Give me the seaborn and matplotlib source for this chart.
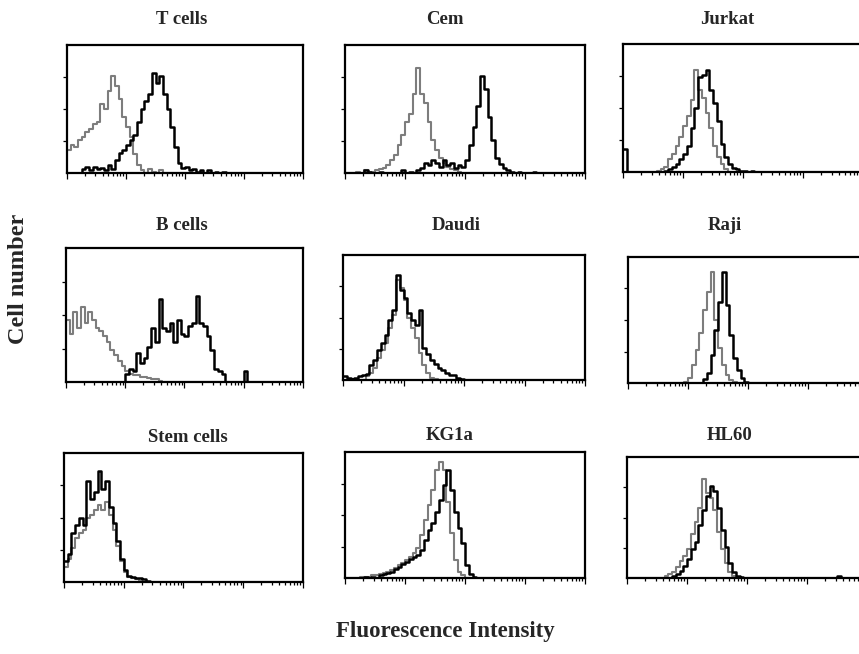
import numpy as np
import pandas as pd
import matplotlib
matplotlib.use('Agg')
import matplotlib.pyplot as plt
import seaborn as sns

sns.set_style('white')
plt.rcParams['font.family'] = ['Liberation Serif', 'DejaVu Serif']

# 64 channel bins on a 4-decade log axis, counts in % of panel height
n_bins = 64

titles = ['T cells', 'Cem', 'Jurkat', 'B cells', 'Daudi', 'Raji',
          'Stem cells', 'KG1a', 'HL60']

tcells_ctrl = [18, 22, 20, 26, 28, 32, 34, 38, 40, 54, 50, 64, 76, 68, 58, 44,
               36, 28, 15, 6, 2, 0, 3, 1, 0, 2, 0, 0, 0, 0, 0, 0,
               0, 0, 0, 0, 0, 0, 0, 0, 0, 0, 0, 0, 0, 0, 0, 0,
               0, 0, 0, 0, 0, 0, 0, 0, 0, 0, 0, 0, 0, 0, 0, 0]
tcells_stain = [0, 0, 0, 0, 3, 5, 2, 5, 3, 4, 2, 6, 3, 10, 16, 18,
                22, 26, 30, 40, 50, 56, 62, 78, 70, 76, 62, 50, 36, 20, 8, 4,
                5, 2, 3, 1, 2, 0, 2, 0, 1, 0, 1, 0, 0, 0, 0, 0,
                0, 0, 0, 0, 0, 0, 0, 0, 0, 0, 0, 0, 0, 0, 0, 0]

cem_ctrl = [0, 0, 0, 1, 0, 2, 0, 1, 2, 3, 4, 6, 10, 14, 22, 30,
            40, 46, 62, 82, 62, 55, 40, 26, 18, 12, 8, 5, 3, 2, 1, 0,
            0, 0, 0, 0, 0, 0, 0, 0, 0, 0, 0, 0, 0, 0, 0, 0,
            0, 0, 0, 0, 0, 0, 0, 0, 0, 0, 0, 0, 0, 0, 0, 0]
cem_stain = [0, 0, 0, 0, 0, 2, 1, 0, 0, 1, 0, 0, 0, 0, 0, 2,
             0, 1, 0, 2, 4, 8, 6, 10, 8, 5, 10, 6, 8, 4, 6, 5,
             10, 22, 36, 52, 76, 66, 44, 26, 12, 7, 4, 2, 1, 0, 1, 0,
             0, 0, 1, 0, 0, 0, 0, 0, 0, 0, 0, 0, 0, 0, 0, 0]

jurkat_ctrl = [0, 0, 0, 0, 0, 0, 0, 0, 0, 1, 2, 4, 10, 14, 20, 27,
               36, 44, 56, 80, 64, 58, 46, 34, 20, 12, 6, 2, 0, 0, 0, 0,
               0, 0, 0, 0, 0, 0, 0, 0, 0, 0, 0, 0, 0, 0, 0, 0,
               0, 0, 0, 0, 0, 0, 0, 0, 0, 0, 0, 0, 0, 0, 0, 0]
jurkat_stain = [18, 0, 0, 0, 0, 0, 0, 0, 0, 0, 0, 1, 2, 4, 6, 10,
                14, 20, 34, 50, 74, 76, 80, 64, 54, 40, 22, 12, 6, 3, 2, 1,
                1, 0, 1, 0, 0, 0, 0, 0, 0, 0, 0, 0, 0, 0, 0, 0,
                0, 0, 0, 0, 0, 0, 0, 0, 0, 0, 0, 0, 0, 0, 0, 0]

bcells_ctrl = [46, 36, 52, 40, 56, 44, 52, 46, 40, 38, 34, 30, 24, 20, 16, 12,
               8, 6, 5, 5, 4, 4, 3, 2, 2, 1, 0, 0, 0, 0, 0, 0,
               0, 0, 0, 0, 0, 0, 0, 0, 0, 0, 0, 0, 0, 0, 0, 0,
               0, 0, 0, 0, 0, 0, 0, 0, 0, 0, 0, 0, 0, 0, 0, 0]
bcells_stain = [0, 0, 0, 0, 0, 0, 0, 0, 0, 0, 0, 0, 0, 0, 0, 0,
                6, 10, 8, 22, 14, 18, 26, 40, 30, 62, 40, 38, 44, 30, 46, 36,
                34, 42, 44, 64, 44, 42, 34, 24, 10, 8, 6, 0, 0, 0, 0, 0,
                8, 0, 0, 0, 0, 0, 0, 0, 0, 0, 0, 0, 0, 0, 0, 0]

daudi_ctrl = [0, 0, 0, 0, 0, 0, 3, 6, 10, 18, 24, 30, 42, 52, 80, 74,
              64, 50, 42, 34, 22, 12, 6, 2, 1, 0, 0, 0, 0, 0, 0, 0,
              0, 0, 0, 0, 0, 0, 0, 0, 0, 0, 0, 0, 0, 0, 0, 0,
              0, 0, 0, 0, 0, 0, 0, 0, 0, 0, 0, 0, 0, 0, 0, 0]
daudi_stain = [3, 2, 1, 2, 3, 4, 5, 12, 16, 24, 30, 36, 48, 56, 84, 72,
               66, 54, 48, 44, 56, 26, 21, 16, 13, 10, 8, 6, 4, 4, 2, 1,
               0, 0, 0, 0, 0, 0, 0, 0, 0, 0, 0, 0, 0, 0, 0, 0,
               0, 0, 0, 0, 0, 0, 0, 0, 0, 0, 0, 0, 0, 0, 0, 0]

raji_ctrl = [0, 0, 0, 0, 0, 0, 0, 0, 0, 0, 0, 0, 0, 0, 0, 1,
             4, 14, 26, 40, 58, 72, 88, 50, 28, 14, 6, 2, 1, 0, 0, 0,
             0, 0, 0, 0, 0, 0, 0, 0, 0, 0, 0, 0, 0, 0, 0, 0,
             0, 0, 0, 0, 0, 0, 0, 0, 0, 0, 0, 0, 0, 0, 0, 0]
raji_stain = [0, 0, 0, 0, 0, 0, 0, 0, 0, 0, 0, 0, 0, 0, 0, 0,
              0, 0, 0, 0, 3, 8, 22, 42, 64, 88, 62, 38, 20, 10, 4, 1,
              0, 0, 0, 0, 0, 0, 0, 0, 0, 0, 0, 0, 0, 0, 0, 0,
              0, 0, 0, 0, 0, 0, 0, 0, 0, 0, 0, 0, 0, 0, 0, 0]

stem_ctrl = [12, 18, 26, 34, 38, 40, 50, 52, 56, 60, 56, 62, 52, 40, 28, 16,
             8, 4, 3, 2, 1, 0, 0, 0, 0, 0, 0, 0, 0, 0, 0, 0,
             0, 0, 0, 0, 0, 0, 0, 0, 0, 0, 0, 0, 0, 0, 0, 0,
             0, 0, 0, 0, 0, 0, 0, 0, 0, 0, 0, 0, 0, 0, 0, 0]
stem_stain = [16, 22, 38, 44, 50, 44, 78, 64, 70, 86, 72, 78, 58, 46, 32, 18,
              9, 5, 4, 3, 3, 2, 1, 0, 0, 0, 0, 0, 0, 0, 0, 0,
              0, 0, 0, 0, 0, 0, 0, 0, 0, 0, 0, 0, 0, 0, 0, 0,
              0, 0, 0, 0, 0, 0, 0, 0, 0, 0, 0, 0, 0, 0, 0, 0]

kg1a_ctrl = [0, 0, 0, 0, 1, 1, 1, 2, 2, 3, 4, 5, 6, 8, 10, 12,
             14, 17, 20, 24, 34, 46, 58, 70, 86, 92, 86, 60, 36, 14, 5, 2,
             0, 0, 0, 0, 0, 0, 0, 0, 0, 0, 0, 0, 0, 0, 0, 0,
             0, 0, 0, 0, 0, 0, 0, 0, 0, 0, 0, 0, 0, 0, 0, 0]
kg1a_stain = [0, 0, 0, 0, 0, 1, 0, 1, 0, 2, 3, 4, 5, 7, 9, 11,
              13, 15, 17, 18, 22, 30, 38, 44, 52, 62, 74, 86, 70, 52, 40, 28,
              10, 3, 1, 0, 0, 0, 0, 0, 0, 0, 0, 0, 0, 0, 0, 0,
              0, 0, 0, 0, 0, 0, 0, 0, 0, 0, 0, 0, 0, 0, 0, 0]

hl60_ctrl = [0, 0, 0, 0, 0, 0, 0, 0, 0, 0, 2, 3, 5, 9, 14, 18,
             24, 36, 46, 58, 82, 70, 66, 56, 38, 24, 12, 5, 2, 0, 0, 0,
             0, 0, 0, 0, 0, 0, 0, 0, 0, 0, 0, 0, 0, 0, 0, 0,
             0, 0, 0, 0, 0, 0, 0, 0, 0, 0, 0, 0, 0, 0, 0, 0]
hl60_stain = [0, 0, 0, 0, 0, 0, 0, 0, 0, 0, 0, 0, 2, 3, 6, 10,
              16, 24, 30, 44, 56, 68, 76, 72, 58, 40, 26, 12, 5, 2, 1, 0,
              0, 0, 0, 0, 0, 0, 0, 0, 0, 0, 0, 0, 0, 0, 0, 0,
              0, 0, 0, 0, 0, 0, 0, 0, 2, 0, 0, 0, 0, 0, 0, 0]

controls = [tcells_ctrl, cem_ctrl, jurkat_ctrl, bcells_ctrl, daudi_ctrl,
            raji_ctrl, stem_ctrl, kg1a_ctrl, hl60_ctrl]
stains = [tcells_stain, cem_stain, jurkat_stain, bcells_stain, daudi_stain,
          raji_stain, stem_stain, kg1a_stain, hl60_stain]
for c, s in zip(controls, stains):
    assert len(c) == n_bins and len(s) == n_bins

centers = (np.arange(n_bins) + 0.5) / n_bins

# panel boxes in pixels (left, top, right, bottom) and title centres
W, H = 859, 654
boxes = [(67, 45, 303, 173), (345, 45, 585, 173), (623, 44, 863, 172),
         (66, 248, 303, 382), (343, 255, 585, 380), (628, 257, 868, 383),
         (64, 453, 303, 582), (345, 452, 585, 578), (627, 457, 867, 578)]
title_pos = [(182, 20), (445, 20), (727, 20),
             (182, 225), (456, 225), (725, 225),
             (188, 437), (450, 436), (730, 436)]

# log ticks, 4 decades
xt_major = [d / 4 for d in range(5)]
xt_minor = [(d + np.log10(k)) / 4 for d in range(4) for k in range(2, 10)]

fig = plt.figure(figsize=(W / 100, H / 100), dpi=100)

for i in range(9):
    l, t, r, b = boxes[i]
    ax = fig.add_axes([l / W, 1 - b / H, (r - l) / W, (b - t) / H])
    df = pd.DataFrame({'ch': centers, 'ctrl': controls[i], 'stain': stains[i]})
    sns.histplot(data=df, x='ch', weights='ctrl', bins=n_bins, binrange=(0, 1),
                 element='step', fill=False, color='#7d7d7d', linewidth=1.5, ax=ax)
    sns.histplot(data=df, x='ch', weights='stain', bins=n_bins, binrange=(0, 1),
                 element='step', fill=False, color='black', linewidth=1.8, ax=ax)
    ax.set_xlim(0, 1)
    ax.set_ylim(0, 100)
    ax.set_xlabel('')
    ax.set_ylabel('')
    ax.set_xticks(xt_major)
    ax.set_xticks(xt_minor, minor=True)
    ax.set_yticks([25, 50, 75])
    ax.tick_params(axis='both', which='both', direction='out', bottom=True,
                   left=True, labelbottom=False, labelleft=False,
                   color='black', width=0.9)
    ax.tick_params(axis='x', which='major', length=4)
    ax.tick_params(axis='x', which='minor', length=2.5)
    ax.tick_params(axis='y', length=3)
    for sp in ax.spines.values():
        sp.set_visible(True)
        sp.set_color('black')
        sp.set_linewidth(1.6)
    tx, ty = title_pos[i]
    fig.text(tx / W, 1 - ty / H, titles[i], ha='center', va='center',
             fontsize=13.5, fontweight='bold')

fig.text(19 / W, 1 - 279 / H, 'Cell number', rotation=90, ha='center',
         va='center', fontsize=17.5, fontweight='bold')
fig.text(445 / W, 1 - 632 / H, 'Fluorescence Intensity', ha='center',
         va='center', fontsize=16.5, fontweight='bold')

fig.savefig('out.png', dpi=100)
